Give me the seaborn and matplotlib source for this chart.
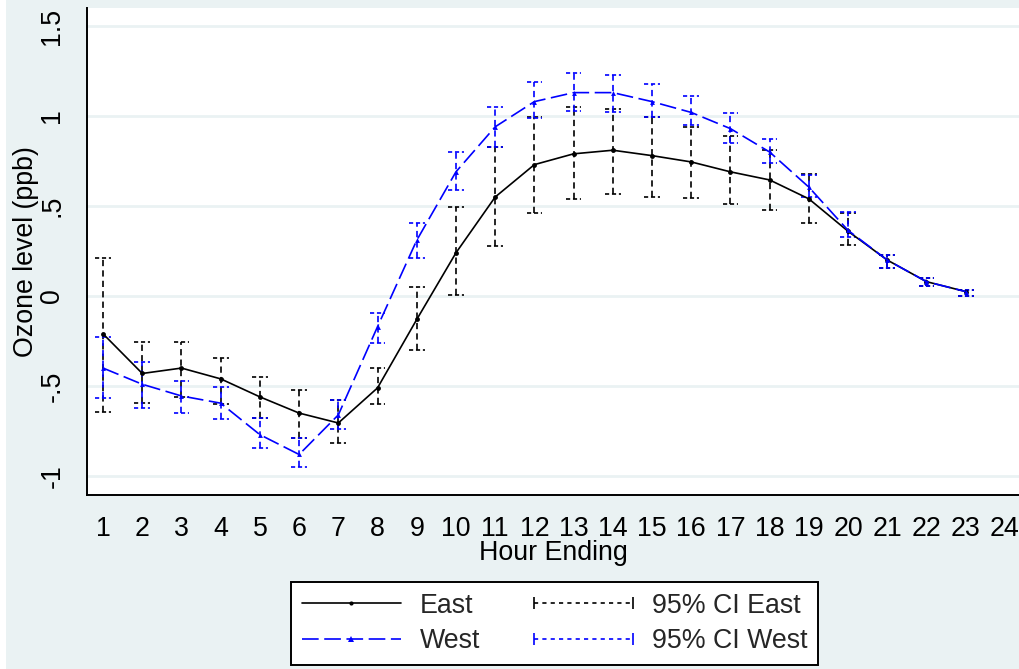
import numpy as np
import pandas as pd
import matplotlib
matplotlib.use("Agg")
import matplotlib.pyplot as plt
import seaborn as sns
from matplotlib.lines import Line2D
from matplotlib.legend_handler import HandlerLine2D
from matplotlib.patches import Rectangle

# ---------------- data ----------------
hours = list(range(1, 24))
east = [-0.21, -0.43, -0.40, -0.46, -0.56, -0.65, -0.705, -0.51, -0.13, 0.24, 0.55, 0.73,
        0.79, 0.81, 0.78, 0.745, 0.69, 0.645, 0.54, 0.36, 0.20, 0.08, 0.025]
east_lo = [-0.645, -0.595, -0.56, -0.60, -0.68, -0.79, -0.815, -0.60, -0.30, 0.005, 0.28, 0.46,
           0.54, 0.565, 0.55, 0.545, 0.51, 0.48, 0.405, 0.285, 0.155, 0.055, 0.0]
east_hi = [0.21, -0.255, -0.255, -0.345, -0.45, -0.52, -0.58, -0.40, 0.05, 0.495, 0.83, 0.995,
           1.05, 1.04, 0.995, 0.94, 0.89, 0.81, 0.68, 0.46, 0.23, 0.10, 0.035]
west = [-0.40, -0.49, -0.555, -0.595, -0.77, -0.88, -0.66, -0.17, 0.31, 0.69, 0.94, 1.08,
        1.13, 1.13, 1.08, 1.02, 0.93, 0.80, 0.605, 0.365, 0.20, 0.08, 0.025]
west_lo = [-0.565, -0.62, -0.65, -0.685, -0.845, -0.95, -0.74, -0.26, 0.21, 0.59, 0.83, 0.99,
           1.03, 1.02, 0.995, 0.95, 0.85, 0.74, 0.55, 0.33, 0.155, 0.055, 0.0]
west_hi = [-0.23, -0.365, -0.47, -0.505, -0.68, -0.79, -0.58, -0.095, 0.405, 0.80, 1.05, 1.19,
           1.24, 1.23, 1.18, 1.11, 1.015, 0.875, 0.67, 0.465, 0.23, 0.10, 0.035]

x_ticks = list(range(1, 25))
y_ticks = [-1, -0.5, 0, 0.5, 1, 1.5]
y_tick_labels = ["-1", "-.5", "0", ".5", "1", "1.5"]
legend_labels = ["East", "West", "95% CI East", "95% CI West"]

# ---------------- style ----------------
sns.set_theme(style="white")
plt.rcParams["font.family"] = ["Liberation Sans", "DejaVu Sans"]
plt.rcParams["lines.scale_dashes"] = False

BG = "#EAF2F3"
FS = 19.3

df = pd.DataFrame({
    "hour": hours * 2,
    "ozone": east + west,
    "region": ["East"] * len(hours) + ["West"] * len(hours),
})

fig = plt.figure(figsize=(10.19, 6.69), dpi=100, facecolor=BG)
fig.patches.append(Rectangle((0, 0), 6 / 1019, 1, transform=fig.transFigure,
                             facecolor="white", edgecolor="none", zorder=-1))
ax = fig.add_axes([87 / 1019, 1 - 495 / 669, 1 - 87 / 1019, (495 - 8) / 669])
ax.set_facecolor("white")

# grid
for yt in y_ticks:
    ax.axhline(yt, color=BG, lw=2.0, zorder=0)

# confidence intervals (vertical dashed line + dashed caps)
cap = 0.2
ci_dash = (4.5, 3)
hx = np.array(hours)
ax.vlines(hours, east_lo, east_hi, colors="black", lw=1.2, linestyles=[(0, ci_dash)], zorder=2)
ax.hlines(east_lo, hx - cap, hx + cap, colors="black", lw=1.2, linestyles=[(0, (3, 2))], zorder=2)
ax.hlines(east_hi, hx - cap, hx + cap, colors="black", lw=1.2, linestyles=[(0, (3, 2))], zorder=2)
ax.vlines(hours, west_lo, west_hi, colors="blue", lw=1.2, linestyles=[(0, ci_dash)], zorder=3)
ax.hlines(west_lo, hx - cap, hx + cap, colors="blue", lw=1.2, linestyles=[(0, (3, 2))], zorder=3)
ax.hlines(west_hi, hx - cap, hx + cap, colors="blue", lw=1.2, linestyles=[(0, (3, 2))], zorder=3)

# mean lines
sns.lineplot(data=df, x="hour", y="ozone", hue="region", style="region",
             palette={"East": "black", "West": "blue"},
             dashes={"East": "", "West": (12, 4)},
             markers={"East": "o", "West": "^"},
             markersize=3.5, markeredgewidth=0, linewidth=1.2, legend=False, ax=ax, zorder=4)

# axes
ax.set_xlim(0.59, 24.36)
ax.set_ylim(-1.105, 1.6)
ax.set_xticks(x_ticks)
ax.set_xticklabels([str(t) for t in x_ticks], fontsize=FS)
ax.set_yticks(y_ticks)
ax.set_yticklabels(y_tick_labels, fontsize=FS, rotation=90, va="center")
ax.tick_params(axis="both", which="major", direction="out", width=1.2,
               color="black", labelcolor="black")
ax.tick_params(axis="x", length=6, pad=9)
ax.tick_params(axis="y", length=8.6, pad=7)
for s in ["top", "right"]:
    ax.spines[s].set_visible(False)
for s in ["left", "bottom"]:
    ax.spines[s].set_color("black")
    ax.spines[s].set_linewidth(1.4)

ax.set_xlabel("Hour Ending", fontsize=FS, color="black")
ax.set_ylabel("Ozone level (ppb)", fontsize=FS, color="black")
ax.xaxis.set_label_coords(0.5, -0.093)
ax.yaxis.set_label_coords(-0.052, 0.5)

# legend
h_east = Line2D([], [], color="black", lw=1.2, marker="o", ms=3, markeredgewidth=0)
h_west = Line2D([], [], color="blue", lw=1.2, dashes=(12, 4), marker="^", ms=5, markeredgewidth=0)
h_ci_e = Line2D([], [], color="black", lw=1.2, dashes=(3, 3), marker="|", ms=9, markeredgewidth=1.2)
h_ci_w = Line2D([], [], color="blue", lw=1.2, dashes=(3, 3), marker="|", ms=9, markeredgewidth=1.2)
leg = fig.legend([h_east, h_west, h_ci_e, h_ci_w], legend_labels, ncol=2,
                 loc="center", mode="expand",
                 bbox_to_anchor=(291 / 1019, 1 - 665 / 669, 527 / 1019, 83 / 669),
                 borderaxespad=0,
                 fontsize=FS, frameon=True, fancybox=False, framealpha=1,
                 edgecolor="black", facecolor="white", handlelength=3.7,
                 handletextpad=0.7, columnspacing=1.6, labelspacing=0.36,
                 borderpad=0.4, numpoints=1,
                 handler_map={h_ci_e: HandlerLine2D(numpoints=2, marker_pad=0),
                              h_ci_w: HandlerLine2D(numpoints=2, marker_pad=0)})
leg.get_frame().set_linewidth(1.4)

fig.savefig("out.png", dpi=100, facecolor=BG)
